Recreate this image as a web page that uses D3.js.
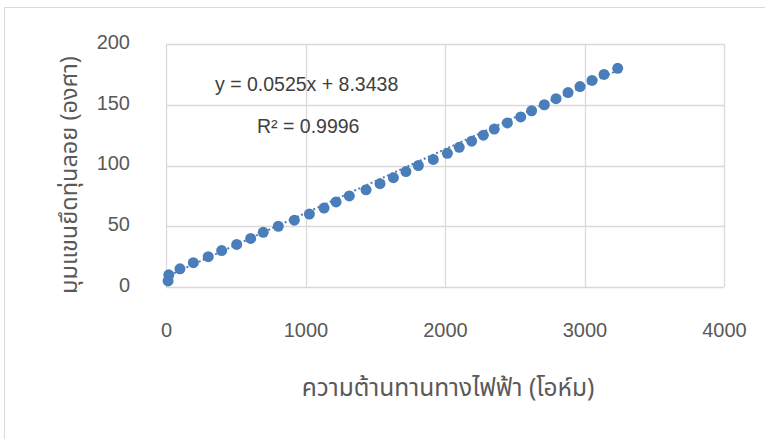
<!DOCTYPE html>
<html>
<head>
<meta charset="utf-8">
<script src="https://cdn.jsdelivr.net/npm/d3@7"></script>
<style>
  html, body { margin: 0; padding: 0; background: #fff; }
  svg { display: block; }
  text { font-family: "Liberation Sans", Arial, sans-serif; }
  .thai { font-family: "Noto Sans Thai", "Noto Sans Thai UI", "Loma", "Garuda", "Norasi", "DejaVu Sans", "Noto Sans", sans-serif; }
</style>
</head>
<body>
<svg id="chart" width="765" height="439"></svg>
<script>
// Resistance (ohm) vs float-arm angle (degrees)
const resistance = [15, 20, 100, 196, 303, 399, 507, 607, 697, 805, 920, 1028,
  1133, 1219, 1314, 1434, 1534, 1630, 1720, 1809, 1916, 2017, 2102, 2191,
  2275, 2353, 2447, 2543, 2621, 2712, 2796, 2882, 2968, 3054, 3140, 3238];
const angle = [5, 10, 15, 20, 25, 30, 35, 40, 45, 50, 55, 60,
  65, 70, 75, 80, 85, 90, 95, 100, 105, 110, 115, 120,
  125, 130, 135, 140, 145, 150, 155, 160, 165, 170, 175, 180];
const xTicks = [0, 1000, 2000, 3000, 4000];
const yTicks = [0, 50, 100, 150, 200];
const slope = 0.0525;
const intercept = 8.3438;
const rSquared = 0.9996;
const xTitle = "ความต้านทานทางไฟฟ้า (โอห์ม)";
const yTitle = "มุมแขนยึดทุ่นลอย (องศา)";

const svg = d3.select("#chart");
const gridColor = "#d9d9d9";
const pointColor = "#4a7ebb";
const textColor = "#595959";

// chart frame (extends past the window on the right and bottom)
svg.append("rect")
  .attr("x", 4.5).attr("y", 7.5)
  .attr("width", 800).attr("height", 500)
  .attr("fill", "#fff").attr("stroke", gridColor).attr("stroke-width", 1);

const x = d3.scaleLinear().domain([0, 4000]).range([166, 724]);
const y = d3.scaleLinear().domain([0, 200]).range([287, 44]);

// gridlines
const grid = svg.append("g");
grid.selectAll("line.v").data(xTicks).join("line")
  .attr("x1", d => Math.round(x(d)) + 0.5).attr("x2", d => Math.round(x(d)) + 0.5)
  .attr("y1", y(200)).attr("y2", y(0))
  .attr("stroke", gridColor).attr("stroke-width", 1.3);
grid.selectAll("line.h").data(yTicks).join("line")
  .attr("x1", x(0)).attr("x2", x(4000))
  .attr("y1", d => Math.round(y(d)) + 0.5).attr("y2", d => Math.round(y(d)) + 0.5)
  .attr("stroke", gridColor).attr("stroke-width", 1.3);

// axis tick labels
const xAxis = d3.axisBottom(x).tickValues(xTicks).tickSize(0).tickFormat(d3.format("d"));
const gx = svg.append("g").attr("transform", "translate(0,320)").call(xAxis);
gx.select(".domain").remove();
gx.selectAll("text").attr("fill", textColor).attr("font-size", 20)
  .attr("font-family", "Liberation Sans, Arial, sans-serif");

const yAxis = d3.axisLeft(y).tickValues(yTicks).tickSize(0).tickFormat(d3.format("d"));
const gy = svg.append("g").attr("transform", "translate(133,-2)").call(yAxis);
gy.select(".domain").remove();
gy.selectAll("text").attr("fill", textColor).attr("font-size", 20)
  .attr("font-family", "Liberation Sans, Arial, sans-serif");

// linear trendline (dotted)
const xMax = d3.max(resistance);
svg.append("line")
  .attr("x1", x(0)).attr("y1", y(intercept))
  .attr("x2", x(xMax)).attr("y2", y(slope * xMax + intercept))
  .attr("stroke", pointColor).attr("stroke-width", 2)
  .attr("stroke-dasharray", "2,2.5");

// data points
svg.append("g").selectAll("circle").data(resistance).join("circle")
  .attr("cx", (d, i) => x(d))
  .attr("cy", (d, i) => y(angle[i]))
  .attr("r", 5.5)
  .attr("fill", pointColor);

// trendline equation
svg.append("text").attr("x", 215).attr("y", 91)
  .attr("font-size", 19.5).attr("fill", "#404040")
  .text(`y = ${slope}x + ${intercept}`);
svg.append("text").attr("x", 257).attr("y", 133)
  .attr("font-size", 19.5).attr("fill", "#404040")
  .text(`R² = ${rSquared}`);

// axis titles
svg.append("text").attr("class", "thai")
  .attr("x", 448).attr("y", 396).attr("text-anchor", "middle")
  .attr("font-size", 24.5).attr("fill", textColor)
  .text(xTitle);
svg.append("text").attr("class", "thai")
  .attr("transform", "translate(77,175) rotate(-90)").attr("text-anchor", "middle")
  .attr("font-size", 23.5).attr("fill", textColor)
  .text(yTitle);
</script>
</body>
</html>
